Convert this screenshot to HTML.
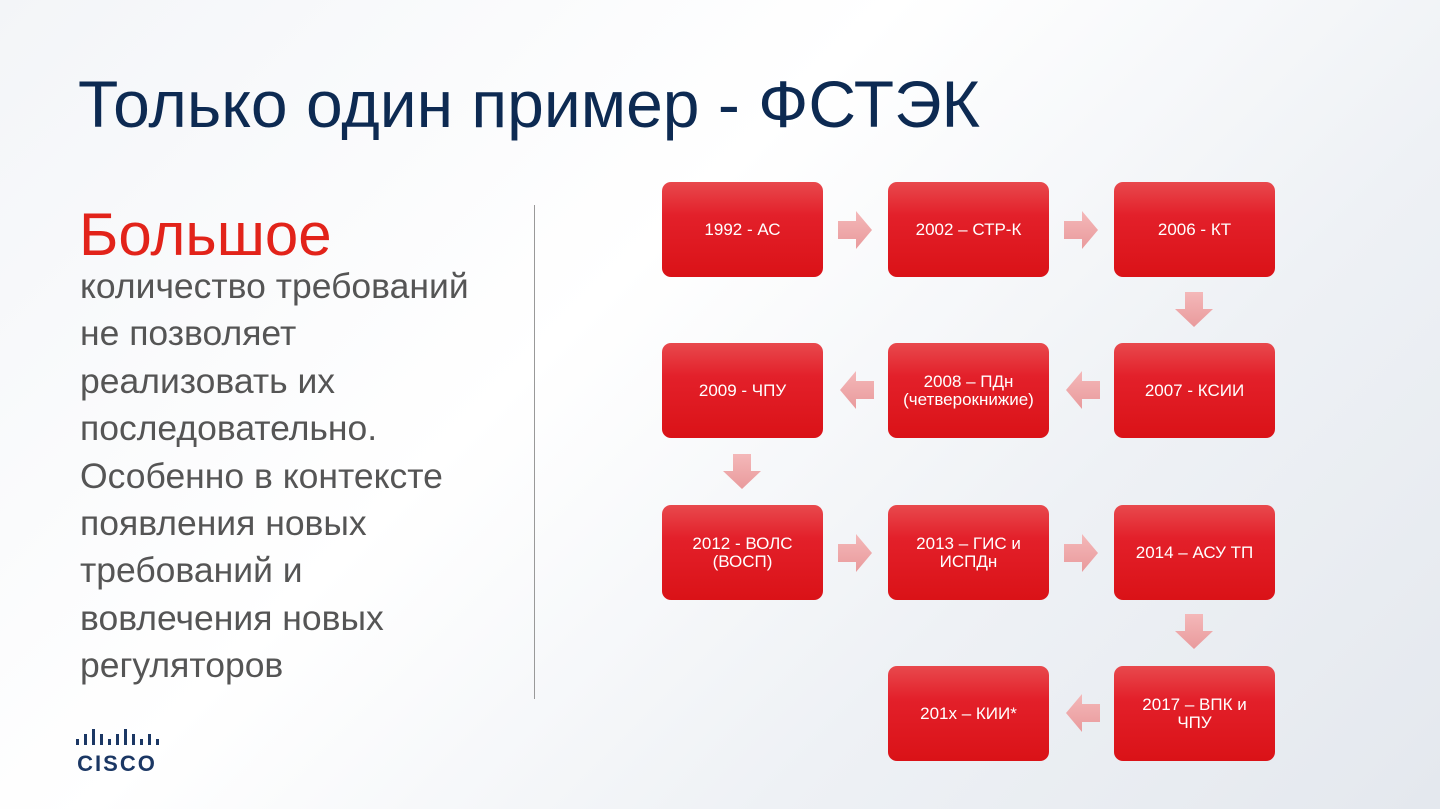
<!DOCTYPE html>
<html><head><meta charset="utf-8"><style>
body{margin:0;width:1440px;height:809px;overflow:hidden;font-family:"Liberation Sans",sans-serif;background:linear-gradient(135deg,#f3f5f8 0%,#ffffff 40%,#eef1f5 70%,#e4e8ee 100%);position:relative}
.t{position:absolute;left:78px;top:66px;font-size:66px;color:#0d2a52;white-space:nowrap}
.b{position:absolute;left:79px;top:200px;font-size:60px;color:#e2231a}
.p{position:absolute;left:80px;top:263px;font-size:35.5px;line-height:47.4px;color:#555;width:420px}
.v{position:absolute;left:534px;top:205px;width:1px;height:494px;background:#999}
.x{position:absolute;width:161px;height:95px;border-radius:9px;background:linear-gradient(#e8494d,#e3202a 35%,#da1217);color:#fff;font-size:17px;display:flex;align-items:center;justify-content:center;text-align:center;line-height:18px}
svg{position:absolute}
</style></head><body>
<div class="t">Только один пример - ФСТЭК</div>
<div class="b">Большое</div>
<div class="p">количество требований не позволяет реализовать их последовательно. Особенно в контексте появления новых требований и вовлечения новых регуляторов</div>
<div class="v"></div>
<div class="x" style="left:662px;top:182px">1992 - АС</div>
<div class="x" style="left:888px;top:182px">2002 – СТР-К</div>
<div class="x" style="left:1114px;top:182px">2006 - КТ</div>
<div class="x" style="left:662px;top:343px">2009 - ЧПУ</div>
<div class="x" style="left:888px;top:343px">2008 – ПДн<br>(четверокнижие)</div>
<div class="x" style="left:1114px;top:343px">2007 - КСИИ</div>
<div class="x" style="left:662px;top:505px">2012 - ВОЛС<br>(ВОСП)</div>
<div class="x" style="left:888px;top:505px">2013 – ГИС и<br>ИСПДн</div>
<div class="x" style="left:1114px;top:505px">2014 – АСУ ТП</div>
<div class="x" style="left:888px;top:666px">201х – КИИ*</div>
<div class="x" style="left:1114px;top:666px">2017 – ВПК и<br>ЧПУ</div>
<svg width="1440" height="809" style="left:0;top:0">
<defs><linearGradient id="g" x1="0" y1="0" x2="0" y2="1"><stop offset="0" stop-color="#f4b8b9"/><stop offset="1" stop-color="#e99a9c"/></linearGradient></defs>
<g fill="url(#g)">
<path d="M838,221h18v-10l16,19l-16,19v-10h-18z"/>
<path d="M1064,221h18v-10l16,19l-16,19v-10h-18z"/>
<path d="M838,544h18v-10l16,19l-16,19v-10h-18z"/>
<path d="M1064,544h18v-10l16,19l-16,19v-10h-18z"/>
<path d="M1100,381h-18v-10l-16,19l16,19v-10h18z"/>
<path d="M874,381h-18v-10l-16,19l16,19v-10h18z"/>
<path d="M1100,704h-18v-10l-16,19l16,19v-10h18z"/>
<path d="M1185,292v17h-10l19,18l19,-18h-10v-17z"/>
<path d="M1185,614v17h-10l19,18l19,-18h-10v-17z"/>
<path d="M733,454v17h-10l19,18l19,-18h-10v-17z"/>
</g>
<g fill="#1b3764">
<rect x="76" y="739" width="3" height="6"/><rect x="84" y="734" width="3" height="11"/><rect x="92" y="729" width="3" height="16"/><rect x="100" y="734" width="3" height="11"/><rect x="108" y="739" width="3" height="6"/><rect x="116" y="734" width="3" height="11"/><rect x="124" y="729" width="3" height="16"/><rect x="132" y="734" width="3" height="11"/><rect x="140" y="739" width="3" height="6"/><rect x="148" y="734" width="3" height="11"/><rect x="156" y="739" width="3" height="6"/>
<text x="117" y="771" font-size="22" font-weight="bold" text-anchor="middle" font-family="Liberation Sans,sans-serif" letter-spacing="2">CISCO</text>
</g>
</svg>
</body></html>
